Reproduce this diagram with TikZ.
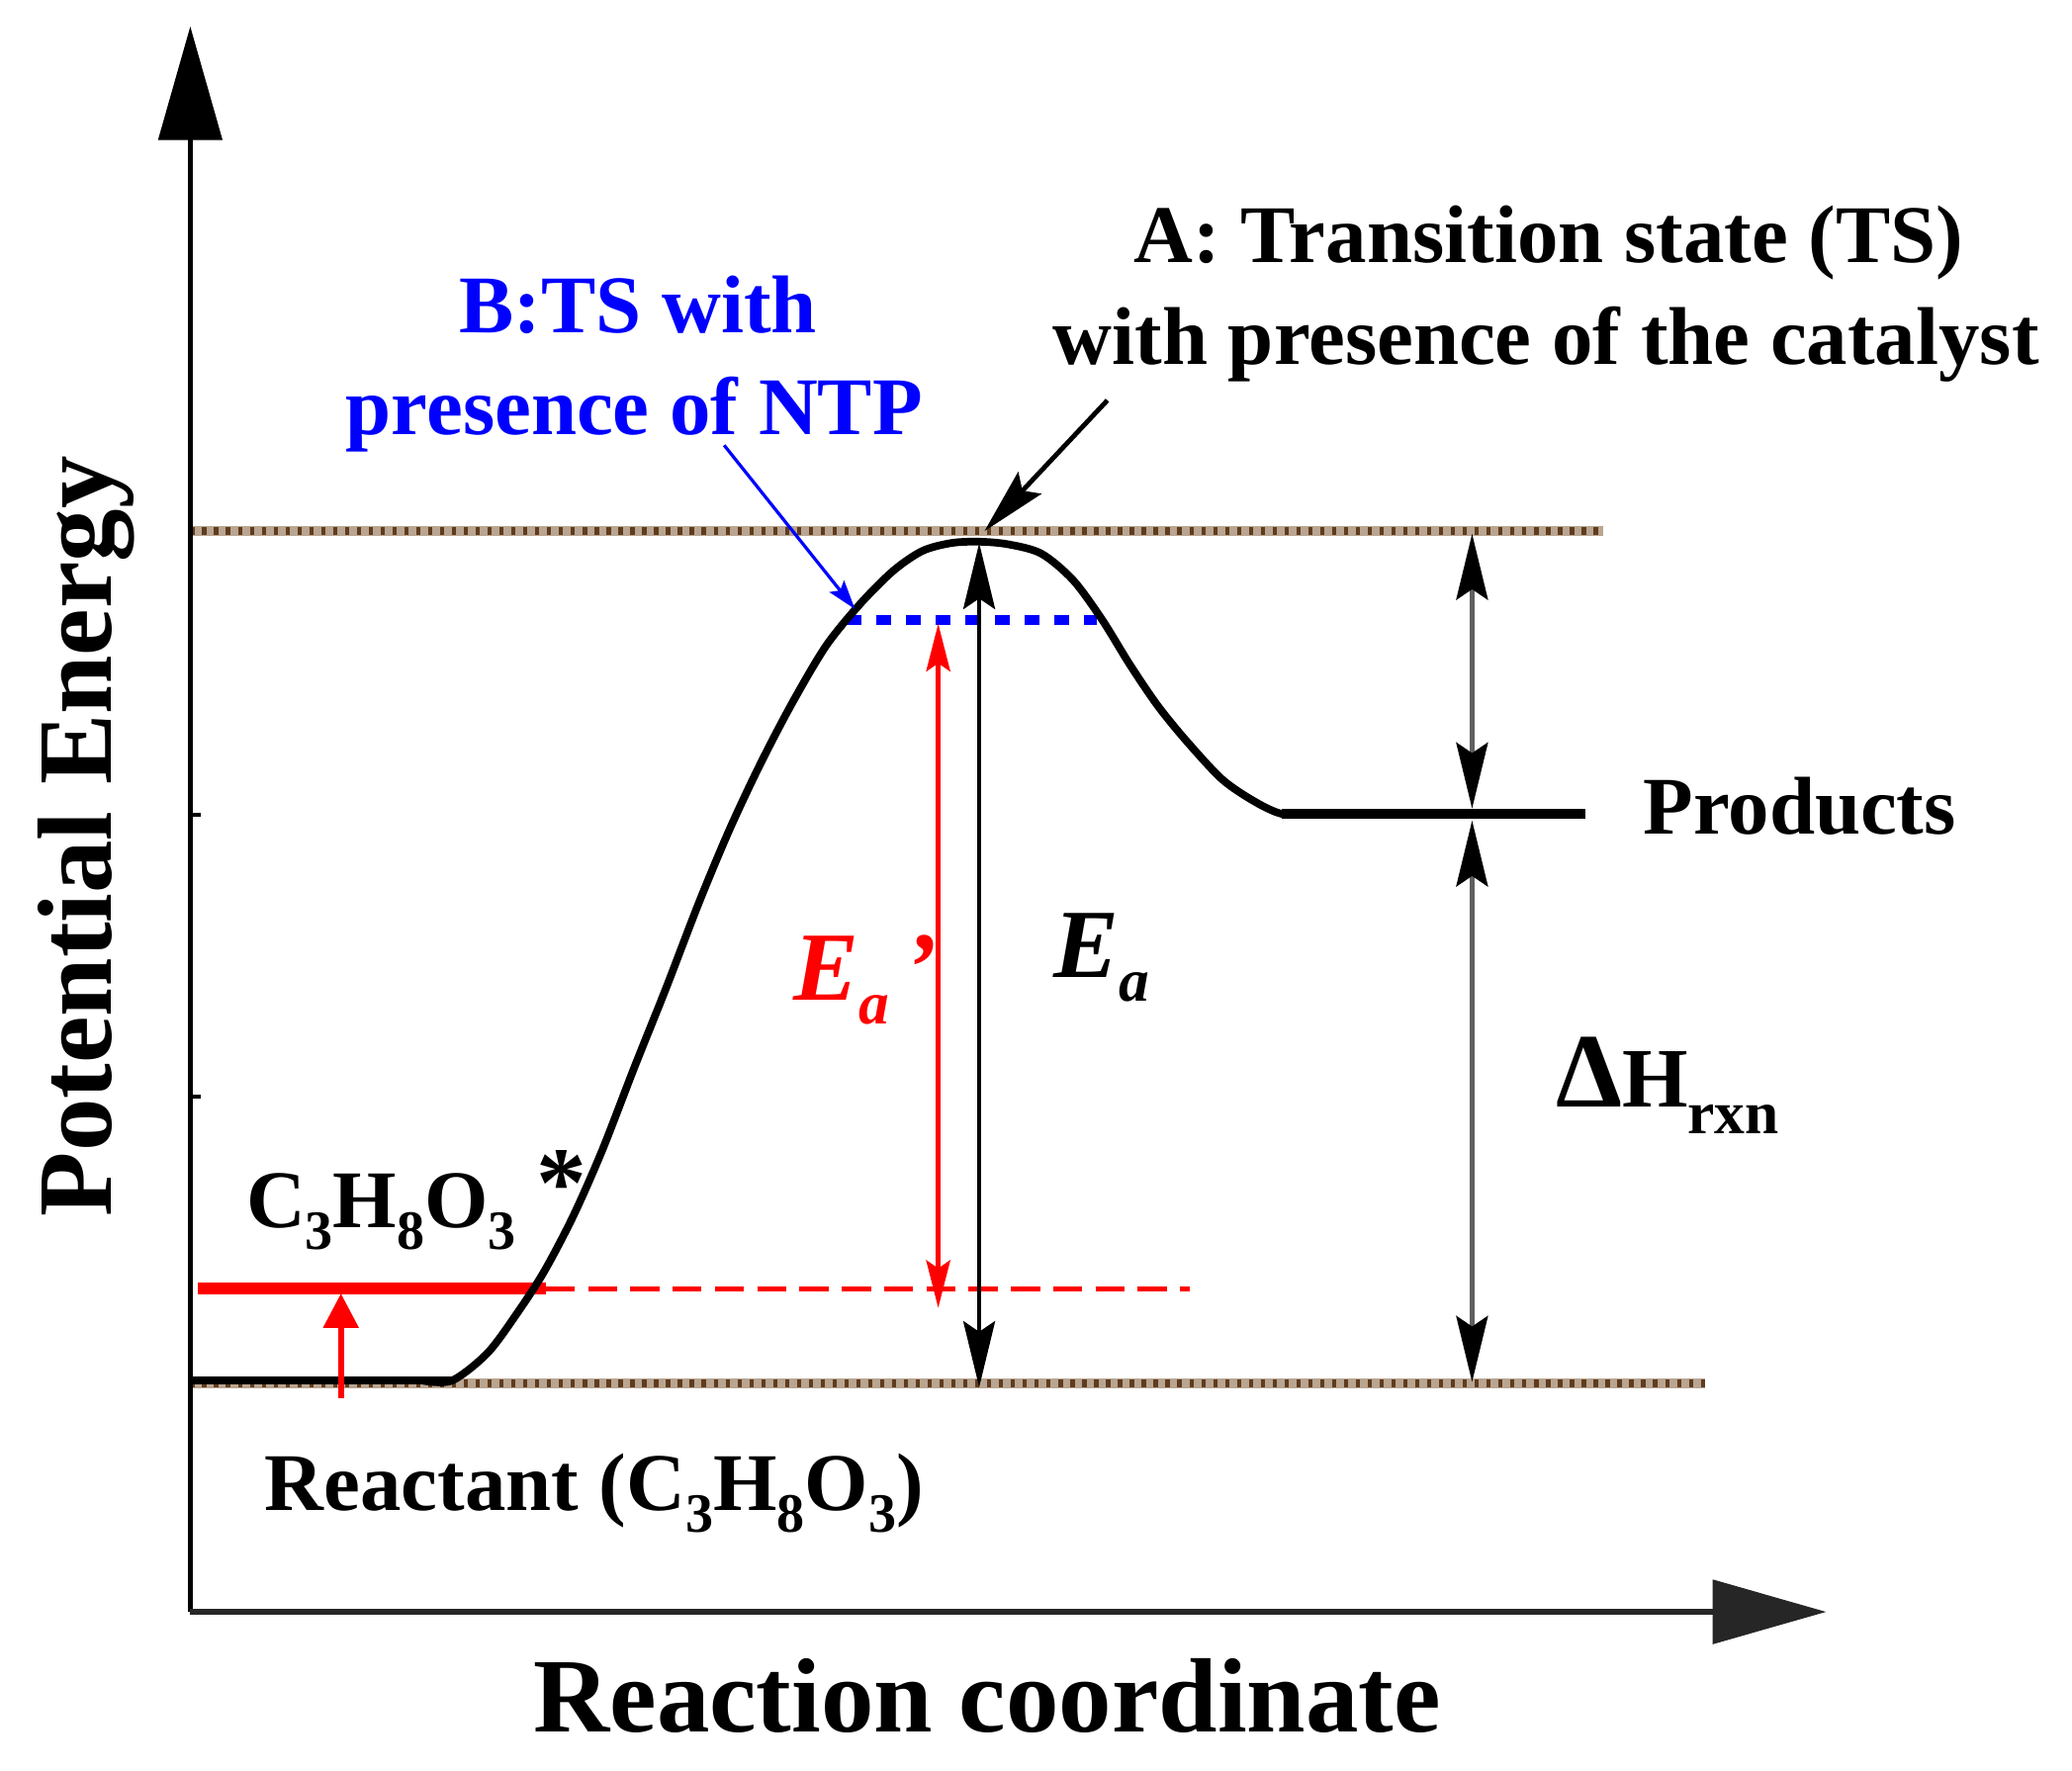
\documentclass[tikz,border=0pt]{standalone}
\usepackage{fontspec}
\setmainfont{Liberation Serif}
\usetikzlibrary{arrows.meta}
\definecolor{tsblue}{RGB}{0,0,255}
\definecolor{tsred}{RGB}{255,0,0}
\definecolor{dotband}{RGB}{185,165,145}
\definecolor{dotdark}{RGB}{95,60,30}
\definecolor{axgray}{RGB}{95,95,95}
\newcommand{\mysub}[1]{\raisebox{-8.5pt}{\fontsize{21}{21}\selectfont #1}}
\begin{document}
\begin{tikzpicture}[x=0.5pt,y=-0.5pt,
  lbl/.style={inner sep=0pt, font=\fontsize{31}{36}\selectfont\bfseries},
  axlbl/.style={inner sep=0pt, font=\fontsize{40}{46}\selectfont\bfseries},
  axisline/.style={line width=1.6pt, black, -{Triangle[length=43pt,width=24pt]}},
  band/.style={line width=3.6pt, dotband, postaction={draw, dotdark, line width=3pt, dash pattern=on 1.6pt off 2.9pt}},
  blackhead/.style={{Stealth[length=25pt,width=12pt,inset=4pt]}-{Stealth[length=25pt,width=12pt,inset=4pt]}},
  grayarrow/.style={line width=1.6pt, axgray, {Stealth[length=25pt,width=12pt,inset=4pt,color=black]}-{Stealth[length=25pt,width=12pt,inset=4pt,color=black]}},
  redarrow/.style={line width=2pt, tsred, {Stealth[length=18pt,width=9pt,inset=3pt]}-{Stealth[length=18pt,width=9pt,inset=3pt]}}
]
\useasboundingbox (0,0) rectangle (1568,1340);
\fill[white] (0,0) rectangle (1568,1340);

% coordinates
\coordinate (O) at (144,1220);
\coordinate (ytip) at (144,20);
\coordinate (xtip) at (1382,1220);
\coordinate (topL) at (144,402);
\coordinate (topR) at (1213,402);
\coordinate (botL) at (144,1047);
\coordinate (botR) at (1290,1047);
\coordinate (reacL) at (144,1045);
\coordinate (reacR) at (342,1045);
\coordinate (prodL) at (970,616);
\coordinate (prodR) at (1200,616);
\coordinate (EaTop) at (741,411);
\coordinate (EaBot) at (741,1050);
\coordinate (EapTop) at (710,472);
\coordinate (EapBot) at (710,990);
\coordinate (dHa) at (1114,404);
\coordinate (dHb) at (1114,612);
\coordinate (dHc) at (1114,621);
\coordinate (dHd) at (1114,1046);
\coordinate (starL) at (150,975.5);
\coordinate (starR) at (413,975.5);
\coordinate (dashR) at (900,975.5);
\coordinate (smallBot) at (258,1058);
\coordinate (smallTop) at (258,979);
\coordinate (blueL) at (641,469);
\coordinate (blueR) at (830,469);
\coordinate (blueFrom) at (548,337);
\coordinate (blueTo) at (647,461);
\coordinate (blkFrom) at (838,303);
\coordinate (blkTo) at (745,402);
\coordinate (tick1a) at (144,617);
\coordinate (tick1b) at (152,617);
\coordinate (tick2a) at (144,830);
\coordinate (tick2b) at (152,830);

% dotted level lines
\draw[band] (topL) -- (topR);
\draw[band] (botL) -- (botR);

% axes
\draw[axisline] (O) -- (ytip);
\draw[axisline, line width=2pt, black!85] (O) -- (xtip);
\draw[line width=1.5pt] (tick1a) -- (tick1b);
\draw[line width=1.5pt] (tick2a) -- (tick2b);

% red activated level
\draw[tsred, line width=2pt, dash pattern=on 11pt off 5pt] (starR) -- (dashR);
\draw[tsred, line width=4.5pt] (starL) -- (starR);

% blue TS level
\draw[tsblue, line width=3.8pt, dash pattern=on 5.5pt off 5.7pt] (blueL) -- (blueR);

% energy curve
\draw[line width=3pt] (reacL) -- (reacR);
\draw[line width=2.9pt, line join=round, line cap=round]
  plot[smooth, tension=0.5] coordinates {
  (320,1045) (342,1045) (369,1024) (392,993) (412,962) (434,920) (456,870)
  (480,808) (504,748) (529,683) (552,628) (575,579) (599,533) (625,489)
  (651,457) (676,432) (698,417) (720,411) (741,410) (763,412) (788,419)
  (812,439) (834,469) (855,503) (876,534) (898,561) (925,590) (950,607)
  (970,616) (990,616)};
\draw[line width=3.8pt] (prodL) -- (prodR);

% arrows
\draw[redarrow] (EapTop) -- (EapBot);
\draw[line width=1.6pt, black, blackhead] (EaTop) -- (EaBot);
\draw[grayarrow] (dHa) -- (dHb);
\draw[grayarrow] (dHc) -- (dHd);
\draw[tsred, line width=2.2pt, -{Triangle[length=13pt,width=13pt]}] (smallBot) -- (smallTop);
\draw[line width=1.8pt, -{Stealth[length=25pt,width=12pt,inset=4pt]}] (blkFrom) -- (blkTo);
\draw[tsblue, line width=1.2pt, -{Stealth[length=11pt,width=7pt,inset=2pt]}] (blueFrom) -- (blueTo);

% labels
\node[axlbl, rotate=90, anchor=base] (ylab) at (84,633) {Potential Energy};
\node[axlbl, anchor=base] (xlab) at (747,1311) {Reaction coordinate};
\node[lbl, anchor=base] (A1) at (1172,199) {A:\ Transition state (TS)};
\node[lbl, anchor=base] (A2) at (1170,276) {with presence of the catalyst};
\node[lbl, anchor=base, text=tsblue] (B1) at (483,252) {B:TS with};
\node[lbl, anchor=base, text=tsblue] (B2) at (480,329) {presence of NTP};
\node[lbl, anchor=base] (prod) at (1362,631) {Products};
\node[lbl, anchor=base west] (star) at (186,929) {C\mysub{3}H\mysub{8}O\mysub{3}\hspace{0.25em}\raisebox{4pt}{\fontsize{38}{38}\selectfont *}};
\node[lbl, anchor=base west] (reac) at (200,1143) {Reactant (C\mysub{3}H\mysub{8}O\mysub{3})};
\node[inner sep=0pt, anchor=base west, text=tsred, font=\fontsize{37}{40}\selectfont\bfseries\itshape] (Eap) at (600,757) {E\raisebox{-9pt}{\fontsize{23}{23}\selectfont a}\hspace{6pt}’};
\node[inner sep=0pt, anchor=base west, font=\fontsize{37}{40}\selectfont\bfseries\itshape] (Ea) at (797,740) {E\raisebox{-9pt}{\fontsize{23}{23}\selectfont a}};
\node[inner sep=0pt, anchor=base west, font=\bfseries] (dH) at (1177,838) {{\fontsize{40}{40}\selectfont Δ}{\fontsize{32}{32}\selectfont H}\raisebox{-10pt}{\fontsize{23}{23}\selectfont rxn}};
\end{tikzpicture}
\end{document}
